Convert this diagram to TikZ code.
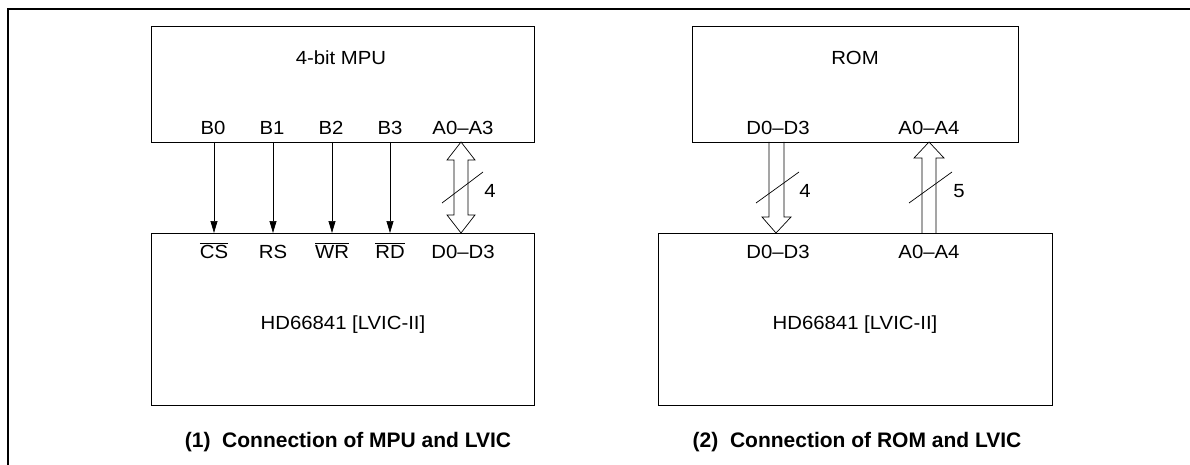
\documentclass[tikz,border=0pt]{standalone}
\usepackage{fontspec}
\setmainfont{Liberation Sans}
\usetikzlibrary{arrows.meta}
\begin{document}
\begin{tikzpicture}[x=1pt,y=-1pt,
  box/.style={draw,line width=0.9pt},
  lbl/.style={font=\fontsize{19}{22}\selectfont,inner sep=0pt,anchor=base,xscale=1.07},
  captext/.style={font=\bfseries\fontsize{21}{24}\selectfont,inner sep=0pt,anchor=base,xscale=1.0},
  sig/.style={line width=0.7pt,-{Triangle[length=12pt,width=7pt]}},
  bus/.style={line width=0.7pt},
  slash/.style={line width=0.7pt}]
\useasboundingbox (0,0) rectangle (1190,465);
\draw[line width=1.2pt] (1190,9) -- (8,9) -- (8,465);
% left part
\draw[box] (151,26) rectangle (534,142);
\draw[box] (151,233) rectangle (534,405);
\node[lbl] (mpu) at (341,65) {4-bit MPU};
\node[lbl] (lvic1) at (343,329) {HD66841 [LVIC-II]};
\node[lbl] (b0) at (213,135) {B0};
\node[lbl] (b1) at (272,135) {B1};
\node[lbl] (b2) at (331,135) {B2};
\node[lbl] (b3) at (390,135) {B3};
\node[lbl] (a03) at (463,135) {A0–A3};
\node[lbl] (cs) at (214,258) {$\overline{\mbox{CS}}$};
\node[lbl] (rs) at (273,258) {RS};
\node[lbl] (wr) at (332,258) {$\overline{\mbox{WR}}$};
\node[lbl] (rd) at (390,258) {$\overline{\mbox{RD}}$};
\node[lbl] (d03) at (463,258) {D0–D3};
\coordinate (s0) at (214,142); \coordinate (t0) at (214,233);
\coordinate (s1) at (273,142); \coordinate (t1) at (273,233);
\coordinate (s2) at (332,142); \coordinate (t2) at (332,233);
\coordinate (s3) at (390,142); \coordinate (t3) at (390,233);
\draw[sig] (s0) -- (t0);
\draw[sig] (s1) -- (t1);
\draw[sig] (s2) -- (t2);
\draw[sig] (s3) -- (t3);
\draw[bus] (461,142) -- (475,160) -- (468,160) -- (468,215) -- (475,215) -- (461,233)
  -- (447,215) -- (454,215) -- (454,160) -- (447,160) -- cycle;
\draw[slash] (442,203) -- (483,172);
\node[lbl] (n4a) at (490,197) {4};
\node[captext] (cap1) at (348,447) {(1)\ \ Connection of MPU and LVIC};
% right part
\draw[box] (692,26) rectangle (1018,142);
\draw[box] (658,233) rectangle (1052,405);
\node[lbl] (rom) at (855,65) {ROM};
\node[lbl] (lvic2) at (855,329) {HD66841 [LVIC-II]};
\node[lbl] (rd03) at (778,135) {D0–D3};
\node[lbl] (ra04) at (929,135) {A0–A4};
\node[lbl] (ld03) at (778,258) {D0–D3};
\node[lbl] (la04) at (929,258) {A0–A4};
\draw[bus] (769,142) -- (769,217) -- (762,217) -- (776,233) -- (791,217) -- (784,217) -- (784,142);
\draw[bus] (922,233) -- (922,158) -- (914,158) -- (929,142) -- (944,158) -- (936,158) -- (936,233);
\draw[slash] (756,203) -- (799,172);
\draw[slash] (909,203) -- (952,172);
\node[lbl] (n4b) at (805,197) {4};
\node[lbl] (n5) at (959,197) {5};
\node[captext] (cap2) at (857,447) {(2)\ \ Connection of ROM and LVIC};
\end{tikzpicture}
\end{document}
